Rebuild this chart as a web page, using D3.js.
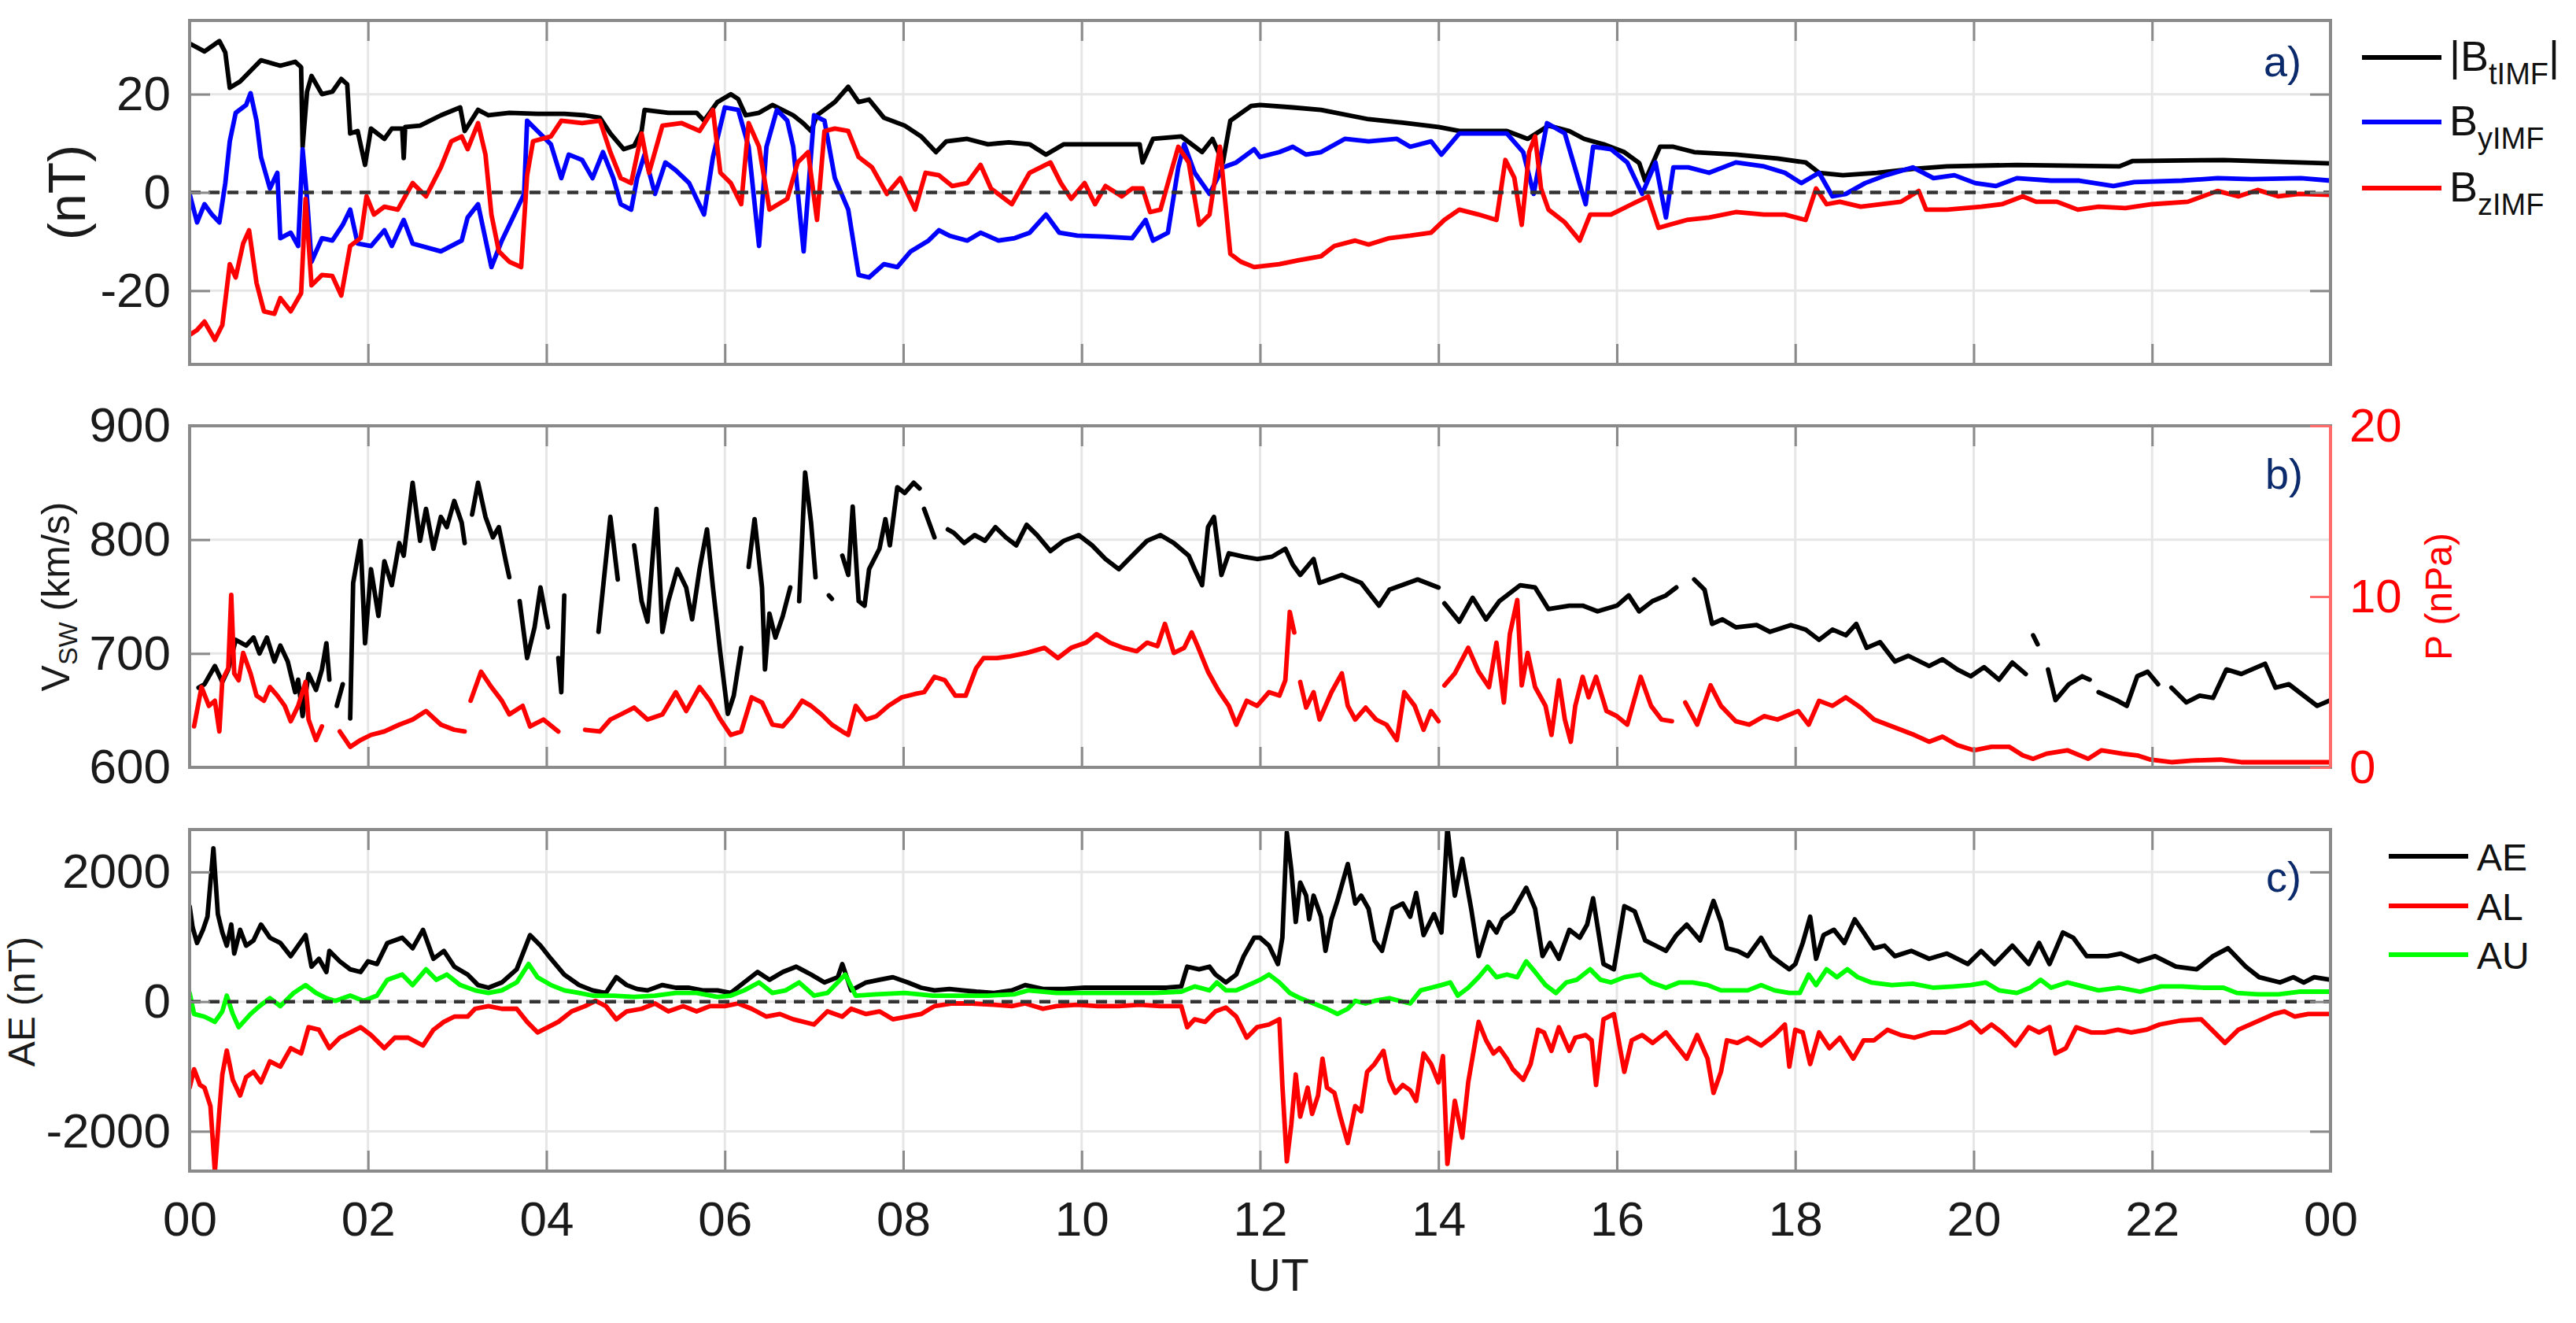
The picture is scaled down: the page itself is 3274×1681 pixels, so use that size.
<!DOCTYPE html>
<html><head><meta charset="utf-8">
<script src="https://cdn.jsdelivr.net/npm/d3@7"></script>
<style>
body{margin:0;background:#fff}
text{font-family:"Liberation Sans",Arial,Helvetica,sans-serif}
</style>
</head><body>
<svg id="fig" width="3274" height="1681" xmlns="http://www.w3.org/2000/svg"></svg>
<script>
// ---------------- DATA (time in minutes after 00 UT) ----------------
const hourTicks = [0,120,240,360,480,600,720,840,960,1080,1200,1320,1440];
const hourLabels = ["00","02","04","06","08","10","12","14","16","18","20","22","00"];

const imfTicks = [-20,0,20];
const vswTicks = [600,700,800,900];
const pTicks = [0,10,20];
const aeTicks = [-2000,0,2000];

// |B_tIMF| (nT)
const BT = [[0,30.3],[10,28.7],[20,30.8],[24,28.5],[27,21.3],[34,22.6],[48,26.9],[61,25.8],[71,26.6],[75,25.5],[76,9.3],[79,20.5],[82,23.7],[89,20],[96,20.5],[102,23.1],[106,22],[108,12],[113,12.5],[118,5.6],[122,13],[131,10.9],[136,13],[143,13],[144,7],[145,13.3],[155,13.6],[169,15.7],[182,17.3],[185,12.5],[194,16.8],[201,15.7],[215,16.2],[234,16],[252,16],[266,15.7],[276,15.2],[283,12],[292,8.8],[299,9.5],[304,12.5],[306,16.8],[322,16.2],[341,16.2],[346,14.6],[355,18.4],[364,20],[369,19],[374,15.7],[383,16.2],[392,17.8],[406,15.7],[413,14],[418,12.5],[422,15.7],[434,18.4],[443,21.5],[450,18.4],[457,18.9],[467,15.2],[481,13.6],[492,11.4],[502,8.2],[509,10.4],[523,10.9],[537,9.8],[551,10.2],[565,9.8],[576,7.7],[588,9.8],[611,9.8],[639,9.8],[641,6.1],[648,10.9],[667,11.4],[681,8.2],[688,10.9],[695,6.1],[700,14.6],[714,17.6],[720,17.8],[742,17.3],[761,16.8],[793,14.9],[816,14.2],[840,13.3],[854,12.5],[886,12.5],[900,10.9],[914,13.6],[928,12.5],[938,10.9],[951,9.8],[965,8.2],[975,6],[979,2.4],[989,9.3],[998,9.3],[1012,8.2],[1040,7.7],[1068,6.9],[1087,6.1],[1096,4.0],[1112,3.5],[1135,4.0],[1159,4.8],[1182,5.3],[1229,5.6],[1298,5.3],[1307,6.4],[1368,6.6],[1440,5.9]];

// B_yIMF (nT)
const BY = [[0,-0.3],[5,-6.1],[10,-2.4],[15,-4.5],[20,-6.1],[24,1.9],[27,10.4],[31,16.2],[38,17.8],[41,20.2],[45,14.6],[48,7.2],[54,0.8],[59,4.0],[61,-9.3],[68,-8.2],[73,-10.9],[76,8.8],[79,-1.3],[82,-14.1],[89,-9.3],[96,-9.8],[103,-6.6],[108,-3.5],[113,-10.4],[122,-10.9],[131,-7.7],[136,-10.9],[144,-5.6],[150,-10.4],[169,-12],[183,-9.8],[187,-5.1],[194,-2.4],[203,-15.2],[210,-9.8],[220,-3.5],[225,-0.3],[227,14.6],[234,12.5],[243,9.8],[250,2.9],[255,7.7],[264,6.6],[271,2.9],[278,8.2],[285,2.9],[290,-2.4],[297,-3.5],[301,2.9],[306,7.7],[313,-0.3],[320,6.1],[327,4.5],[336,1.9],[346,-4.5],[352,7.2],[360,17.3],[369,16.8],[376,9.3],[383,-10.9],[388,9.3],[395,16.8],[402,14.6],[406,9.3],[413,-12],[420,15.7],[427,14.6],[434,2.9],[443,-3.5],[450,-16.8],[457,-17.3],[467,-14.6],[476,-15.2],[485,-12],[497,-9.8],[504,-7.7],[511,-8.8],[523,-9.8],[532,-8.2],[544,-9.8],[555,-9.3],[565,-8.2],[576,-4.5],[585,-8.2],[597,-8.8],[615,-9.0],[634,-9.3],[643,-5.6],[648,-9.8],[658,-8.2],[665,5.1],[669,9.8],[676,4.0],[686,-0.3],[695,5.1],[704,6.1],[716,8.8],[720,7.2],[733,8.2],[742,9.3],[751,7.7],[761,8.2],[777,10.9],[793,10.4],[812,10.9],[821,9.3],[835,10.4],[842,7.7],[854,12],[872,12],[886,12],[897,8.2],[904,-0.3],[913,14.1],[925,12],[939,-2.4],[944,9.3],[956,8.8],[967,6.1],[977,-0.3],[986,6.1],[993,-5.1],[998,5.1],[1008,5.1],[1022,4.0],[1040,6.1],[1059,5.3],[1073,4.0],[1084,1.9],[1096,4.0],[1105,-0.8],[1114,-0.3],[1127,1.9],[1141,3.5],[1159,5.1],[1173,2.9],[1187,3.5],[1201,1.9],[1215,1.3],[1229,2.9],[1252,2.4],[1271,2.4],[1294,1.3],[1308,2.1],[1340,2.4],[1364,2.9],[1387,2.7],[1420,2.9],[1440,2.4]];

// B_zIMF (nT)
const BZ = [[0,-29],[5,-28],[10,-26.3],[17,-30],[22,-27],[27,-14.6],[31,-17.3],[36,-10.4],[40,-7.7],[45,-18.4],[50,-24.2],[57,-24.7],[61,-21.5],[68,-24.2],[75,-20.5],[78,-1.3],[82,-18.9],[89,-16.8],[96,-17],[102,-21],[108,-10.9],[115,-9.3],[119,-0.8],[124,-4.5],[131,-2.9],[140,-3.5],[150,1.9],[159,-0.8],[169,5.1],[176,10.4],[183,11.4],[187,8.8],[194,14.1],[199,7.7],[203,-4.5],[208,-12],[215,-14.1],[223,-15.2],[227,3.5],[231,10.4],[243,11.4],[250,14.6],[264,14.1],[276,14.6],[283,8.2],[290,2.9],[297,1.9],[304,12],[309,4],[318,13.6],[331,14.1],[343,12.5],[352,16.8],[357,4.0],[364,1.9],[371,-2.4],[376,14.1],[383,9.3],[390,-3.5],[402,-1.3],[409,6.1],[416,8.2],[422,-5.6],[427,12.5],[434,13.0],[443,12.5],[450,7.2],[459,5.1],[469,-0.3],[478,2.9],[488,-3.5],[495,4.0],[504,3.5],[513,1.3],[523,1.9],[532,5.6],[539,0.8],[553,-2.4],[565,4],[579,6.1],[586,1.9],[593,-1.3],[602,1.9],[609,-2.4],[616,1.3],[627,-0.8],[634,0.8],[641,0.8],[646,-4],[653,-3.5],[660,4],[665,9.3],[672,6.1],[679,-6.6],[686,-4.5],[693,9.3],[700,-12.5],[707,-14.1],[716,-15.2],[733,-14.6],[746,-13.8],[761,-13],[770,-10.9],[784,-9.8],[793,-10.6],[807,-9.3],[821,-8.8],[835,-8.2],[844,-5.6],[854,-3.5],[867,-4.5],[879,-5.6],[885,6.6],[891,3.0],[896,-6.6],[901,8.2],[905,11.4],[909,0.8],[914,-3.5],[925,-6.1],[935,-9.8],[942,-4.5],[956,-4.5],[970,-2.4],[981,-0.8],[988,-7.2],[995,-6.6],[1007,-5.6],[1022,-5.1],[1040,-4.0],[1059,-4.5],[1073,-4.5],[1087,-5.6],[1094,0.8],[1101,-2.4],[1110,-1.9],[1124,-2.9],[1138,-2.4],[1151,-1.9],[1163,0.3],[1168,-3.5],[1182,-3.5],[1205,-2.9],[1219,-2.4],[1233,-0.8],[1242,-1.9],[1256,-1.9],[1270,-3.5],[1284,-2.9],[1302,-3.2],[1320,-2.4],[1344,-1.9],[1364,0.3],[1378,-0.8],[1391,0.5],[1405,-0.8],[1419,-0.3],[1440,-0.5]];

// V_SW (km/s), null = data gap
const VSW = [[6,670],[10,673],[17,689],[22,675],[26,686],[31,712],[38,707],[43,714],[47,700],[52,714],[57,693],[61,707],[66,693],[71,666],[73,677],[76,645],[80,682],[85,668],[89,686],[92,709],[94,677],[96,null],[99,654],[103,673],[105,null],[108,643],[110,762],[115,799],[118,709],[122,774],[127,733],[131,781],[136,760],[141,797],[144,786],[150,850],[155,799],[159,827],[164,792],[169,820],[173,811],[178,834],[183,815],[185,797],[187,null],[190,822],[194,850],[199,820],[204,802],[208,811],[213,779],[215,767],[218,null],[222,746],[227,696],[232,723],[236,758],[241,723],[245,null],[248,696],[250,666],[252,751],[255,null],[275,719],[283,820],[288,765],[291,null],[299,795],[304,746],[308,728],[314,827],[318,719],[322,746],[328,774],[334,758],[338,730],[343,774],[348,809],[352,758],[357,700],[362,647],[366,663],[371,705],[373,null],[376,776],[380,818],[385,758],[387,686],[390,735],[394,714],[399,733],[404,758],[407,null],[410,746],[414,859],[418,815],[421,767],[424,null],[430,751],[432,748],[435,null],[439,786],[443,769],[446,829],[450,746],[454,742],[457,774],[464,792],[468,818],[471,795],[476,846],[481,841],[487,850],[491,845],[492,null],[494,827],[501,802],[503,null],[510,809],[514,806],[521,797],[528,804],[535,799],[542,811],[549,802],[556,795],[563,813],[570,804],[579,790],[588,799],[598,804],[607,795],[616,783],[625,774],[634,786],[644,799],[653,804],[662,797],[672,786],[676,774],[681,760],[685,811],[689,820],[694,769],[699,788],[709,785],[718,783],[728,785],[737,792],[742,778],[747,769],[756,783],[760,762],[775,769],[788,762],[800,742],[807,756],[826,765],[840,758],[842,null],[844,744],[854,728],[863,749],[872,730],[881,746],[895,760],[905,758],[914,739],[928,742],[937,742],[947,737],[960,742],[968,751],[975,737],[984,746],[993,751],[1000,758],[1003,null],[1012,765],[1019,756],[1024,726],[1031,730],[1040,723],[1054,725],[1063,719],[1077,725],[1087,721],[1096,712],[1105,721],[1114,716],[1121,726],[1128,705],[1137,710],[1147,693],[1156,698],[1170,689],[1179,695],[1189,686],[1198,680],[1207,688],[1217,677],[1226,692],[1235,682],[1238,null],[1240,716],[1243,708],[1246,null],[1250,686],[1255,659],[1264,673],[1273,680],[1278,677],[1281,null],[1284,666],[1296,659],[1303,654],[1310,680],[1317,684],[1324,673],[1326,null],[1333,670],[1343,657],[1352,663],[1361,661],[1370,686],[1380,682],[1387,686],[1396,691],[1403,670],[1412,673],[1422,663],[1431,654],[1440,659]];

// P (nPa), null = data gap
const PDYN = [[3,2.4],[8,4.7],[13,3.6],[17,3.9],[20,2.1],[22,5.1],[26,5.8],[28,10.1],[30,5.5],[33,5.1],[36,6.7],[41,5.5],[45,4.2],[50,3.9],[54,4.7],[59,4.2],[64,3.6],[68,2.7],[73,3.6],[78,5.0],[80,2.8],[85,1.6],[89,2.4],[92,null],[101,2.1],[108,1.2],[115,1.6],[122,1.9],[131,2.1],[141,2.5],[150,2.8],[159,3.3],[169,2.5],[178,2.2],[185,2.1],[187,null],[189,3.9],[196,5.6],[203,4.7],[210,3.9],[215,3.1],[224,3.6],[229,2.4],[238,2.8],[248,2.1],[250,null],[266,2.2],[276,2.1],[283,2.8],[290,3.1],[299,3.5],[308,2.8],[318,3.1],[327,4.4],[334,3.3],[343,4.7],[350,3.9],[357,2.8],[364,1.9],[371,2.1],[378,4.1],[385,3.8],[392,2.5],[399,2.4],[405,3.0],[412,3.9],[418,3.6],[425,3.1],[432,2.5],[439,2.1],[443,1.9],[448,3.6],[455,2.8],[462,3.0],[470,3.6],[479,4.1],[488,4.3],[494,4.4],[501,5.3],[508,5.1],[515,4.2],[522,4.2],[529,5.8],[534,6.4],[543,6.4],[552,6.5],[563,6.7],[575,7.0],[584,6.4],[593,7.0],[603,7.3],[610,7.8],[619,7.3],[628,7.0],[637,6.8],[644,7.3],[651,7.1],[656,8.4],[662,6.7],[669,7.0],[674,7.9],[678,7.1],[685,5.6],[692,4.5],[699,3.6],[704,2.5],[711,3.9],[718,3.6],[726,4.4],[733,4.2],[737,5.1],[740,9.1],[743,7.9],[745,null],[747,5.0],[751,3.5],[756,4.4],[760,2.8],[768,4.4],[775,5.5],[779,3.6],[784,2.8],[791,3.5],[798,2.8],[805,2.5],[812,1.6],[817,4.4],[824,3.6],[830,2.2],[835,3.3],[840,2.7],[842,null],[844,4.8],[851,5.5],[860,7.0],[867,5.6],[874,4.7],[879,7.3],[884,3.8],[888,7.8],[893,9.8],[896,4.8],[900,6.7],[905,4.7],[912,3.6],[916,1.9],[921,5.1],[925,2.8],[929,1.5],[932,3.6],[937,5.3],[941,4.1],[946,5.3],[953,3.3],[960,3.0],[967,2.5],[976,5.3],[983,3.6],[990,2.8],[997,2.7],[1000,null],[1006,3.8],[1014,2.5],[1023,4.8],[1030,3.6],[1040,2.7],[1049,2.5],[1059,3.0],[1068,2.8],[1082,3.3],[1089,2.5],[1096,3.9],[1105,3.6],[1114,4.1],[1124,3.5],[1133,2.8],[1142,2.5],[1151,2.2],[1160,1.9],[1170,1.5],[1179,1.8],[1189,1.3],[1200,1.0],[1212,1.2],[1224,1.2],[1233,0.7],[1240,0.5],[1249,0.8],[1263,1.0],[1277,0.5],[1286,1.0],[1300,0.8],[1310,0.7],[1319,0.45],[1333,0.3],[1347,0.4],[1366,0.45],[1380,0.3],[1403,0.3],[1440,0.3]];

// AE, AL, AU (nT)
const AE = [[0,1473],[2,1148],[5,905],[9,1108],[12,1310],[16,2365],[19,1351],[22,1067],[25,864],[28,1189],[30,742],[34,1108],[38,864],[43,945],[48,1189],[54,986],[61,905],[68,702],[78,1026],[82,540],[87,661],[92,458],[94,783],[101,621],[108,499],[115,458],[120,621],[126,580],[133,905],[143,986],[150,824],[157,1108],[164,661],[171,783],[178,540],[187,418],[194,256],[201,215],[210,296],[220,499],[229,1026],[236,864],[243,661],[252,418],[262,256],[271,174],[280,134],[287,377],[294,256],[301,195],[308,174],[318,256],[327,215],[336,215],[345,174],[355,174],[364,134],[373,296],[382,458],[390,337],[399,458],[408,540],[418,418],[427,296],[436,377],[439,580],[445,174],[455,296],[464,337],[473,377],[483,296],[492,215],[501,174],[511,195],[520,174],[529,154],[541,134],[553,174],[562,256],[574,195],[588,195],[602,215],[616,215],[630,215],[643,215],[657,215],[667,235],[671,540],[679,499],[686,540],[690,418],[697,296],[704,418],[709,702],[716,986],[720,986],[726,864],[732,580],[735,986],[738,2609],[741,2041],[744,1229],[747,1838],[751,1635],[753,1270],[756,1635],[761,1310],[764,783],[768,1270],[772,1554],[779,2122],[784,1513],[788,1635],[793,1432],[797,945],[802,783],[809,1432],[816,1513],[821,1310],[825,1676],[830,1026],[837,1351],[842,1067],[846,2690],[851,1635],[856,2203],[862,1432],[867,702],[874,1229],[879,1067],[883,1270],[890,1392],[899,1757],[905,1432],[910,702],[915,905],[921,661],[928,1108],[935,986],[940,1189],[944,1594],[951,580],[958,499],[965,1473],[972,1392],[979,945],[986,864],[993,783],[1000,1026],[1007,1189],[1016,945],[1025,1554],[1030,1229],[1034,824],[1041,783],[1048,702],[1057,986],[1064,702],[1071,580],[1076,499],[1080,580],[1085,905],[1090,1310],[1094,661],[1099,1026],[1106,1108],[1113,905],[1120,1270],[1126,1067],[1133,824],[1140,864],[1147,702],[1158,783],[1170,661],[1182,742],[1196,580],[1205,783],[1214,580],[1226,864],[1237,580],[1244,905],[1251,580],[1260,1067],[1267,986],[1276,702],[1290,702],[1299,742],[1311,621],[1322,702],[1336,540],[1350,499],[1361,702],[1371,824],[1383,540],[1392,377],[1406,296],[1415,377],[1422,296],[1429,377],[1440,337]];

const AL = [[0,-1327],[3,-1043],[7,-1286],[10,-1327],[14,-1611],[17,-2625],[20,-1692],[22,-1124],[25,-755],[29,-1205],[34,-1448],[38,-1164],[43,-1083],[48,-1245],[54,-921],[61,-1002],[68,-718],[75,-799],[80,-394],[87,-434],[94,-718],[101,-556],[108,-475],[115,-394],[122,-515],[131,-718],[138,-556],[147,-556],[157,-677],[164,-434],[171,-312],[178,-231],[187,-231],[192,-110],[201,-69],[210,-110],[220,-110],[227,-312],[234,-475],[241,-394],[248,-312],[257,-150],[266,-69],[273,12],[280,-69],[287,-272],[294,-150],[304,-110],[313,-28],[322,-150],[332,-69],[341,-150],[350,-69],[360,-69],[369,-28],[378,-110],[388,-231],[397,-191],[406,-272],[420,-353],[429,-150],[439,-231],[445,-110],[455,-191],[464,-150],[473,-272],[483,-231],[492,-191],[501,-69],[513,-28],[526,-28],[541,-48],[553,-69],[562,-28],[574,-110],[583,-69],[597,-48],[611,-69],[625,-69],[639,-48],[653,-69],[667,-69],[671,-394],[676,-272],[683,-312],[690,-150],[697,-90],[704,-231],[711,-556],[718,-394],[726,-353],[733,-272],[735,-1286],[738,-2463],[741,-1895],[744,-1124],[747,-1773],[752,-1327],[755,-1732],[759,-1448],[762,-880],[765,-1327],[770,-1408],[774,-1773],[779,-2179],[784,-1611],[788,-1692],[792,-1083],[797,-962],[803,-759],[807,-1205],[811,-1408],[816,-1286],[821,-1367],[825,-1530],[830,-799],[835,-962],[840,-1245],[843,-840],[846,-2503],[851,-1530],[856,-2098],[860,-1245],[867,-312],[872,-596],[877,-799],[881,-718],[886,-880],[890,-1043],[897,-1205],[902,-962],[907,-434],[911,-475],[916,-759],[921,-394],[928,-759],[932,-556],[939,-515],[943,-596],[946,-1286],[951,-272],[958,-191],[965,-1083],[970,-596],[977,-515],[984,-637],[993,-475],[1000,-677],[1007,-880],[1014,-515],[1021,-880],[1025,-1408],[1030,-1083],[1034,-596],[1041,-637],[1048,-556],[1057,-677],[1066,-515],[1073,-353],[1076,-1002],[1080,-434],[1085,-475],[1090,-962],[1096,-475],[1103,-718],[1110,-556],[1119,-880],[1126,-596],[1133,-596],[1142,-434],[1151,-515],[1160,-556],[1172,-475],[1181,-475],[1191,-394],[1198,-312],[1205,-475],[1212,-353],[1219,-475],[1228,-677],[1237,-394],[1244,-475],[1251,-394],[1255,-799],[1262,-718],[1269,-394],[1279,-475],[1288,-475],[1297,-434],[1306,-475],[1316,-434],[1325,-353],[1339,-292],[1353,-272],[1362,-475],[1369,-637],[1378,-434],[1390,-312],[1402,-191],[1409,-150],[1416,-231],[1425,-191],[1440,-191]];

const AU = [[0,134],[3,-191],[10,-231],[17,-312],[22,-150],[25,93],[29,-191],[33,-394],[41,-191],[47,-69],[54,53],[61,-69],[70,134],[78,256],[85,134],[92,53],[98,12],[108,93],[117,12],[126,93],[133,337],[143,418],[150,256],[159,499],[166,337],[173,418],[182,256],[192,174],[201,134],[210,174],[220,296],[228,580],[234,377],[243,256],[252,174],[262,134],[271,93],[285,93],[299,73],[313,93],[327,134],[341,134],[355,73],[364,93],[373,174],[383,296],[392,134],[401,174],[410,296],[420,93],[429,134],[441,418],[448,93],[462,114],[481,134],[500,93],[518,93],[537,93],[555,114],[564,174],[583,134],[602,134],[625,134],[649,134],[667,154],[676,235],[686,174],[691,296],[697,174],[704,174],[716,296],[720,337],[726,418],[733,296],[740,134],[747,53],[756,-28],[765,-110],[772,-191],[779,-110],[784,12],[791,-28],[797,12],[807,53],[814,12],[821,-28],[828,174],[835,215],[842,256],[848,296],[853,93],[860,215],[867,377],[873,540],[879,377],[886,418],[893,377],[899,621],[905,458],[912,256],[919,134],[926,296],[933,337],[942,499],[949,337],[956,296],[965,377],[976,418],[983,296],[993,215],[1002,296],[1011,296],[1021,256],[1030,174],[1039,174],[1048,174],[1057,256],[1066,174],[1076,134],[1083,134],[1089,418],[1094,256],[1101,499],[1108,377],[1115,499],[1122,377],[1131,296],[1145,256],[1159,276],[1173,215],[1187,235],[1198,256],[1208,296],[1217,174],[1229,134],[1238,215],[1245,337],[1252,215],[1263,296],[1270,256],[1284,174],[1298,215],[1312,154],[1326,235],[1340,235],[1354,215],[1368,215],[1377,134],[1391,114],[1405,114],[1419,154],[1440,154]];

// ---------------- DRAWING ----------------
const svg = d3.select("#fig");
const X0 = 241, X1 = 2962;
const x = d3.scaleLinear().domain([0,1440]).range([X0,X1]);
const AXC = "#8a8a8a", GRIDC = "#e6e6e6", NAVY = "#0b2a6b";
const LW = 5.8;
const fmtInt = d => String(d);   // plain hyphen-minus, as in the original figure

const panels = {
  a:{top:26,bottom:463,domain:[-35,35]},
  b:{top:541,bottom:975,domain:[600,900]},
  c:{top:1054,bottom:1488,domain:[-2614,2655]}
};

const defs = svg.append("defs");
Object.entries(panels).forEach(([k,p])=>{
  defs.append("clipPath").attr("id","clip-"+k).append("rect")
    .attr("x",X0).attr("y",p.top).attr("width",X1-X0).attr("height",p.bottom-p.top);
});

function yScale(p, dom){ return d3.scaleLinear().domain(dom||p.domain).range([p.bottom,p.top]); }

function drawGrid(p, y, yticks){
  const g = svg.append("g");
  g.selectAll(".vg").data(hourTicks.slice(1,-1)).join("line")
    .attr("x1",d=>x(d)).attr("x2",d=>x(d)).attr("y1",p.top).attr("y2",p.bottom)
    .attr("stroke",GRIDC).attr("stroke-width",3);
  g.selectAll(".hg").data(yticks.filter(v=>y(v)>p.top+2 && y(v)<p.bottom-2)).join("line")
    .attr("x1",X0).attr("x2",X1).attr("y1",d=>y(d)).attr("y2",d=>y(d))
    .attr("stroke",GRIDC).attr("stroke-width",3);
}

function drawLine(k, data, y, color, width){
  const line = d3.line().defined(d=>d[1]!==null).x(d=>x(d[0])).y(d=>y(d[1]));
  svg.append("path").datum(data).attr("clip-path","url(#clip-"+k+")")
    .attr("d",line).attr("fill","none").attr("stroke",color)
    .attr("stroke-width",width||LW).attr("stroke-linejoin","round").attr("stroke-linecap","round");
}

function zeroLine(y){
  svg.append("line").attr("x1",X0).attr("x2",X1).attr("y1",y(0)).attr("y2",y(0))
    .attr("stroke","#333333").attr("stroke-width",4.5).attr("stroke-dasharray","14,10");
}

function styleAxis(g, color, fs){
  g.select(".domain").remove();
  g.selectAll(".tick line").attr("stroke",color).attr("stroke-width",3);
  g.selectAll(".tick text").attr("fill",color==AXC?"#1a1a1a":color).attr("font-size",fs)
    .attr("font-family","Liberation Sans, Arial, sans-serif");
}

function frame(p, yLeft, ticks, rightTicks){
  const top = svg.append("g").attr("transform",`translate(0,${p.top})`)
    .call(d3.axisTop(x).tickValues(hourTicks.slice(1,-1)).tickSize(-26).tickFormat(""));
  styleAxis(top, AXC, 0);
  const bot = svg.append("g").attr("transform",`translate(0,${p.bottom})`)
    .call(d3.axisBottom(x).tickValues(hourTicks.slice(1,-1)).tickSize(-26).tickFormat(""));
  styleAxis(bot, AXC, 0);
  const left = svg.append("g").attr("transform",`translate(${X0},0)`)
    .call(d3.axisLeft(yLeft).tickValues(ticks).tickSize(-26).tickPadding(24).tickFormat(fmtInt));
  styleAxis(left, AXC, 62);
  left.selectAll(".tick text").attr("fill","#1a1a1a");
  if(rightTicks){
    const right = svg.append("g").attr("transform",`translate(${X1},0)`)
      .call(d3.axisRight(yLeft).tickValues(ticks).tickSize(-26).tickFormat(""));
    styleAxis(right, AXC, 0);
  }
  svg.append("rect").attr("x",X0).attr("y",p.top).attr("width",X1-X0).attr("height",p.bottom-p.top)
    .attr("fill","none").attr("stroke",AXC).attr("stroke-width",4);
}

// ---- panel a ----
{
  const p = panels.a, y = yScale(p);
  drawGrid(p, y, imfTicks);
  drawLine("a", BT, y, "#000000");
  drawLine("a", BY, y, "#0000ff");
  drawLine("a", BZ, y, "#ff0000");
  zeroLine(y);
  frame(p, y, imfTicks, true);
  svg.append("text").attr("transform",`translate(108,${(p.top+p.bottom)/2}) rotate(-90)`)
    .attr("text-anchor","middle").attr("font-size",66).attr("fill","#1a1a1a").text("(nT)");
  svg.append("text").attr("x",2925).attr("y",97).attr("text-anchor","end")
    .attr("font-family","Open Sans, Noto Sans, sans-serif").attr("font-size",54).attr("fill",NAVY).text("a)");
  const leg = [{c:"#000000",y:73,pre:"|B",sub:"tIMF",post:"|"},
               {c:"#0000ff",y:155,pre:"B",sub:"yIMF",post:""},
               {c:"#ff0000",y:239,pre:"B",sub:"zIMF",post:""}];
  leg.forEach(l=>{
    svg.append("line").attr("x1",3002).attr("x2",3103).attr("y1",l.y).attr("y2",l.y)
      .attr("stroke",l.c).attr("stroke-width",6);
    const t = svg.append("text").attr("x",3113).attr("y",l.y+17).attr("font-size",54).attr("fill","#111");
    t.append("tspan").text(l.pre);
    t.append("tspan").attr("font-size",38).attr("dy",17).text(l.sub);
    if(l.post) t.append("tspan").attr("font-size",54).attr("dy",-17).text(l.post);
  });
}

// ---- panel b ----
{
  const p = panels.b, y = yScale(p), yp = yScale(p,[0,20]);
  drawGrid(p, y, vswTicks);
  drawLine("b", VSW, y, "#000000");
  drawLine("b", PDYN, yp, "#ff0000");
  frame(p, y, vswTicks, false);
  svg.append("line").attr("x1",X1).attr("x2",X1).attr("y1",p.top).attr("y2",p.bottom)
    .attr("stroke","#ff6a6a").attr("stroke-width",4);
  const right = svg.append("g").attr("transform",`translate(${X1},0)`)
    .call(d3.axisRight(yp).tickValues(pTicks).tickSize(-26).tickPadding(24).tickFormat(fmtInt));
  styleAxis(right, "#ff3030", 60);
  right.selectAll(".tick line").attr("stroke","#ff6a6a");
  right.selectAll(".tick text").attr("fill","#ff0000");
  svg.append("text").attr("transform",`translate(88,${(p.top+p.bottom)/2}) rotate(-90)`)
    .attr("text-anchor","middle").attr("font-size",50).attr("fill","#1a1a1a")
    .call(t=>{ t.append("tspan").text("V");
               t.append("tspan").attr("font-size",34).attr("dy",10).text("SW");
               t.append("tspan").attr("dy",-10).text(" (km/s)"); });
  svg.append("text").attr("transform",`translate(3116,${(p.top+p.bottom)/2}) rotate(-90)`)
    .attr("text-anchor","middle").attr("font-size",48).attr("fill","#ff0000").text("P (nPa)");
  svg.append("text").attr("x",2927).attr("y",621).attr("text-anchor","end")
    .attr("font-family","Open Sans, Noto Sans, sans-serif").attr("font-size",54).attr("fill",NAVY).text("b)");
}

// ---- panel c ----
{
  const p = panels.c, y = yScale(p);
  drawGrid(p, y, aeTicks);
  drawLine("c", AE, y, "#000000");
  drawLine("c", AL, y, "#ff0000");
  drawLine("c", AU, y, "#00ff00");
  zeroLine(y);
  frame(p, y, aeTicks, true);
  const xb = svg.append("g").attr("transform",`translate(0,${p.bottom})`)
    .call(d3.axisBottom(x).tickValues(hourTicks).tickSize(0).tickPadding(38)
      .tickFormat((d,i)=>hourLabels[i]));
  xb.select(".domain").remove();
  xb.selectAll(".tick text").attr("font-size",62).attr("fill","#1a1a1a");
  svg.append("text").attr("transform",`translate(44,${y(0)}) rotate(-90)`)
    .attr("text-anchor","middle").attr("font-size",48).attr("fill","#1a1a1a").text("AE (nT)");
  svg.append("text").attr("x",2925).attr("y",1133).attr("text-anchor","end")
    .attr("font-family","Open Sans, Noto Sans, sans-serif").attr("font-size",54).attr("fill",NAVY).text("c)");
  svg.append("text").attr("x",1625).attr("y",1640).attr("text-anchor","middle")
    .attr("font-size",58).attr("fill","#1a1a1a").text("UT");
  const leg = [{c:"#000000",y:1088,t:"AE"},{c:"#ff0000",y:1151,t:"AL"},{c:"#00ff00",y:1213,t:"AU"}];
  leg.forEach(l=>{
    svg.append("line").attr("x1",3036).attr("x2",3137).attr("y1",l.y).attr("y2",l.y)
      .attr("stroke",l.c).attr("stroke-width",6);
    svg.append("text").attr("x",3148).attr("y",l.y+18).attr("font-size",48).attr("fill","#111").text(l.t);
  });
}
</script>
</body></html>
